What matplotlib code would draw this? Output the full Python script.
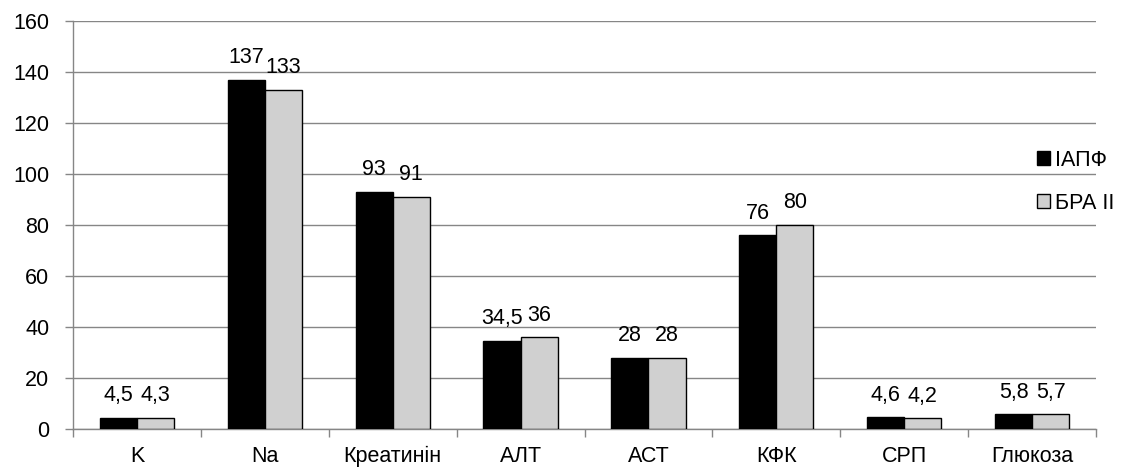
import matplotlib
matplotlib.use("Agg")
import matplotlib.pyplot as plt
import numpy as np

categories = ["K", "Na", "Креатинін", "АЛТ", "АСТ", "КФК", "СРП", "Глюкоза"]
iapf = [4.5, 137, 93, 34.5, 28, 76, 4.6, 5.8]
bra = [4.3, 133, 91, 36, 28, 80, 4.2, 5.7]
series_names = ["ІАПФ", "БРА ІІ"]
yticks = [0, 20, 40, 60, 80, 100, 120, 140, 160]

plt.rcParams['font.family'] = ['Liberation Sans', 'DejaVu Sans']
FS = 15.5

fig = plt.figure(figsize=(11.22, 4.67), dpi=100)
ax = fig.add_axes([73/1122, 1 - 429/467, (1096-73)/1122, (429-21)/467])

x = np.arange(len(categories))
w = 0.29
grid_c = "#868686"
b1 = ax.bar(x - w/2, iapf, w, color="black", edgecolor="black", linewidth=1, label=series_names[0], zorder=3)
b2 = ax.bar(x + w/2, bra, w, color="#d0d0d0", edgecolor="black", linewidth=1, label=series_names[1], zorder=3)

def fmt(v):
    s = ("%g" % v).replace(".", ",")
    return s

for bars, vals in ((b1, iapf), (b2, bra)):
    for r, v in zip(bars, vals):
        ax.annotate(fmt(v), (r.get_x() + r.get_width()/2, v), xytext=(0, 12),
                    textcoords="offset points", ha="center", va="baseline", fontsize=FS)

ax.set_xlim(-0.5, len(categories) - 0.5)
ax.set_ylim(0, 160)
ax.set_yticks(yticks)
ax.yaxis.grid(True, color=grid_c, linewidth=1)
ax.set_axisbelow(True)

ax.set_xticks(x)
ax.set_xticklabels(categories, fontsize=FS)
ax.set_xticks(np.arange(len(categories) + 1) - 0.5, minor=True)
ax.tick_params(axis="x", which="major", length=0, pad=12)
ax.tick_params(axis="x", which="minor", length=6, color=grid_c, width=1)
ax.tick_params(axis="y", length=6, color=grid_c, width=1, pad=11, labelsize=FS)

for s in ("top", "right"):
    ax.spines[s].set_visible(False)
for s in ("left", "bottom"):
    ax.spines[s].set_color(grid_c)
    ax.spines[s].set_linewidth(1)

leg = ax.legend(loc="upper left", bbox_to_anchor=(1026/1122, 1 - 139/467), bbox_transform=fig.transFigure,
                frameon=False, fontsize=FS, handlelength=0.6, handleheight=0.6, handletextpad=0.25,
                labelspacing=1.02, borderpad=0)

fig.savefig("out.png", dpi=100)
